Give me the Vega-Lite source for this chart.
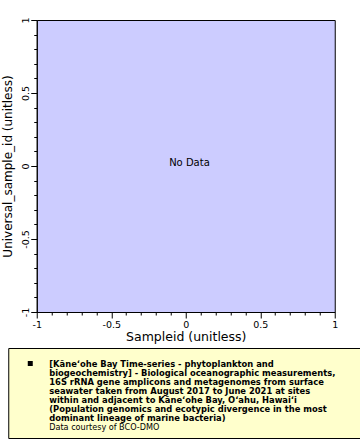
{
  "$schema": "https://vega.github.io/schema/vega-lite/v6.json",
  "background": "white",
  "padding": {"left": 1, "top": 16, "right": 1, "bottom": 2},
  "spacing": 3,
  "center": true,
  "config": {
    "font": "DejaVu Sans",
    "axis": {
      "domainColor": "black",
      "tickColor": "black",
      "labelColor": "black",
      "titleColor": "black",
      "labelFont": "DejaVu Sans",
      "titleFont": "DejaVu Sans",
      "labelFontSize": 9.5,
      "titleFontSize": 12.5,
      "titleFontWeight": "normal",
      "grid": false,
      "labelFlush": false,
      "labelOverlap": false
    }
  },
  "vconcat": [
    {
      "width": 298,
      "height": 292,
      "title": {"text": " ", "orient": "right", "fontSize": 10, "offset": -46},
      "view": {"fill": "#ccccff", "stroke": "black", "strokeWidth": 1},
      "data": {"values": [{"x": 0.025, "y": 0, "label": "No Data"}]},
      "mark": {"type": "text", "align": "center", "baseline": "alphabetic", "font": "DejaVu Sans", "fontSize": 10, "color": "black"},
      "encoding": {
        "x": {
          "field": "x", "type": "quantitative",
          "scale": {"domain": [-1, 1], "nice": false, "zero": false},
          "axis": {
            "title": "Sampleid (unitless)",
            "values": [-1, -0.9, -0.8, -0.7, -0.6, -0.5, -0.4, -0.3, -0.2, -0.1, 0, 0.1, 0.2, 0.3, 0.4, 0.5, 0.6, 0.7, 0.8, 0.9, 1],
            "labelExpr": "abs(datum.value * 2 - round(datum.value * 2)) < 0.001 ? '' + datum.value : ''",
            "tickSize": {"condition": {"test": "abs(datum.value * 2 - round(datum.value * 2)) < 0.001", "value": 6}, "value": 3},
            "labelPadding": 1,
            "titlePadding": 2
          }
        },
        "y": {
          "field": "y", "type": "quantitative",
          "scale": {"domain": [-1, 1], "nice": false, "zero": false},
          "axis": {
            "title": "Universal_sample_id (unitless)",
            "titleFontSize": 12,
            "values": [-1, -0.9, -0.8, -0.7, -0.6, -0.5, -0.4, -0.3, -0.2, -0.1, 0, 0.1, 0.2, 0.3, 0.4, 0.5, 0.6, 0.7, 0.8, 0.9, 1],
            "labelExpr": "abs(datum.value * 2 - round(datum.value * 2)) < 0.001 ? '' + datum.value : ''",
            "tickSize": {"condition": {"test": "abs(datum.value * 2 - round(datum.value * 2)) < 0.001", "value": 6}, "value": 3},
            "labelAngle": -90,
            "labelAlign": "center",
            "labelBaseline": "bottom",
            "labelPadding": 0,
            "titlePadding": 6
          }
        },
        "text": {"field": "label"}
      }
    },
    {
      "width": 358,
      "height": 90,
      "view": {"fill": "#ffffcc", "stroke": "black", "strokeWidth": 1},
      "data": {"values": [
        {"line": 0, "kind": "title", "text": "[Kāneʻohe Bay Time-series - phytoplankton and"},
        {"line": 1, "kind": "title", "text": "biogeochemistry] - Biological oceanographic measurements,"},
        {"line": 2, "kind": "title", "text": "16S rRNA gene amplicons and metagenomes from surface"},
        {"line": 3, "kind": "title", "text": "seawater taken from August 2017 to June 2021 at sites"},
        {"line": 4, "kind": "title", "text": "within and adjacent to Kāneʻohe Bay, Oʻahu, Hawaiʻi"},
        {"line": 5, "kind": "title", "text": "(Population genomics and ecotypic divergence in the most"},
        {"line": 6, "kind": "title", "text": "dominant lineage of marine bacteria)"},
        {"line": 7, "kind": "credit", "text": "Data courtesy of BCO-DMO"}
      ]},
      "encoding": {
        "y": {"field": "line", "type": "quantitative", "scale": {"domain": [-2.056, 7.944], "reverse": true, "nice": false, "zero": false}, "axis": null}
      },
      "layer": [
        {
          "transform": [{"filter": "datum.kind == 'title'"}],
          "mark": {"type": "text", "align": "left", "baseline": "alphabetic", "font": "DejaVu Sans Condensed", "fontWeight": "bold", "fontSize": 9.3, "color": "black"},
          "encoding": {
            "x": {"datum": 0.1145, "type": "quantitative", "scale": {"domain": [0, 1], "nice": false, "zero": false}, "axis": null},
            "text": {"field": "text"}
          }
        },
        {
          "transform": [{"filter": "datum.kind == 'credit'"}],
          "mark": {"type": "text", "align": "left", "baseline": "alphabetic", "font": "DejaVu Sans Condensed", "fontWeight": "normal", "fontSize": 9, "color": "black"},
          "encoding": {
            "x": {"datum": 0.1145, "type": "quantitative"},
            "text": {"field": "text"}
          }
        },
        {
          "transform": [{"filter": "datum.line == 0"}],
          "mark": {"type": "point", "shape": "square", "filled": true, "color": "black", "opacity": 1, "size": 25, "yOffset": -3},
          "encoding": {
            "x": {"datum": 0.0615, "type": "quantitative"}
          }
        }
      ]
    }
  ]
}
